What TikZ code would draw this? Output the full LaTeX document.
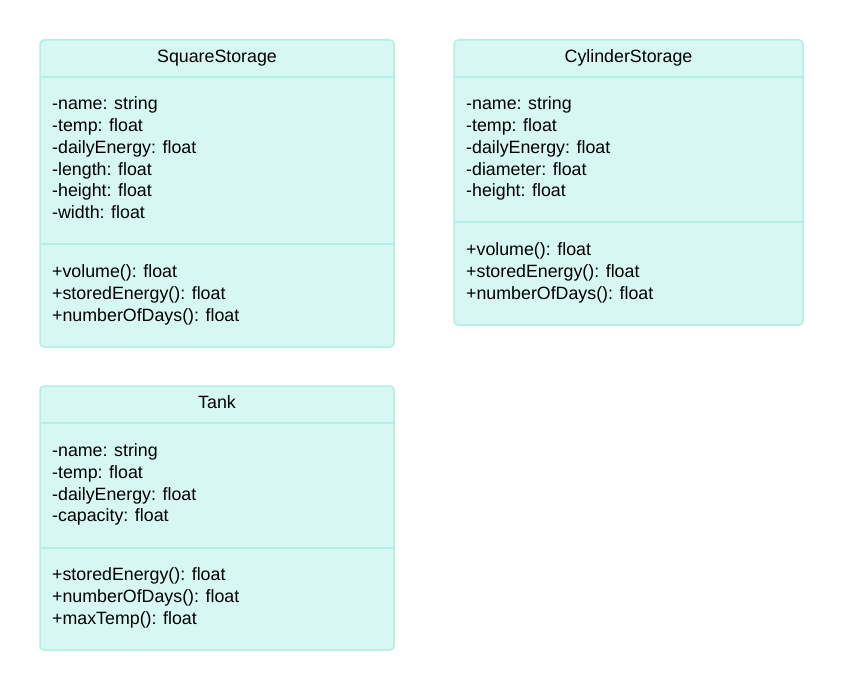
\documentclass[tikz,border=0pt]{standalone}
\usepackage{fontspec}
\setmainfont{Liberation Sans}
\usepackage{tikz}

\definecolor{classfill}{HTML}{D7F8F2}
\definecolor{classline}{HTML}{B2F0E4}

\begin{document}
\begin{tikzpicture}[x=1pt,y=-1pt,font=\fontsize{17.8}{21}\selectfont]
  \tikzstyle{classbox}=[draw=classline,fill=classfill,line width=1.5pt,rounded corners=4pt]
  \tikzstyle{sep}=[draw=classline,line width=1.5pt]
  \tikzstyle{title}=[anchor=mid,inner sep=0pt]
  \tikzstyle{member}=[anchor=mid west,inner sep=0pt]

  \useasboundingbox (0,0) rectangle (843,690);

  % SquareStorage
  \draw[classbox] (40,40) rectangle (394,347);
  \node[title] (sqTitle) at (217,60) {SquareStorage};
  \path[sep] (40,77) -- (394,77) (40,244) -- (394,244);
  \foreach \t [count=\i from 0] in {-name: string,-temp: float,-dailyEnergy: float,-length: float,-height: float,-width: float}
    \node[member] (sqAttr\i) at (52,107+21.8*\i) {\t};
  \foreach \t [count=\i from 0] in {+volume(): float,+storedEnergy(): float,+numberOfDays(): float}
    \node[member] (sqOp\i) at (52,275+21.8*\i) {\t};

  % CylinderStorage
  \draw[classbox] (454,40) rectangle (803,325);
  \node[title] (cylTitle) at (628.5,60) {CylinderStorage};
  \path[sep] (454,77) -- (803,77) (454,222) -- (803,222);
  \foreach \t [count=\i from 0] in {-name: string,-temp: float,-dailyEnergy: float,-diameter: float,-height: float}
    \node[member] (cylAttr\i) at (466,107+21.8*\i) {\t};
  \foreach \t [count=\i from 0] in {+volume(): float,+storedEnergy(): float,+numberOfDays(): float}
    \node[member] (cylOp\i) at (466,253+21.8*\i) {\t};

  % Tank
  \draw[classbox] (40,386) rectangle (394,650);
  \node[title] (tankTitle) at (217,406) {Tank};
  \path[sep] (40,423) -- (394,423) (40,548) -- (394,548);
  \foreach \t [count=\i from 0] in {-name: string,-temp: float,-dailyEnergy: float,-capacity: float}
    \node[member] (tankAttr\i) at (52,454+21.7*\i) {\t};
  \foreach \t [count=\i from 0] in {+storedEnergy(): float,+numberOfDays(): float,+maxTemp(): float}
    \node[member] (tankOp\i) at (52,578+21.7*\i) {\t};
\end{tikzpicture}
\end{document}
